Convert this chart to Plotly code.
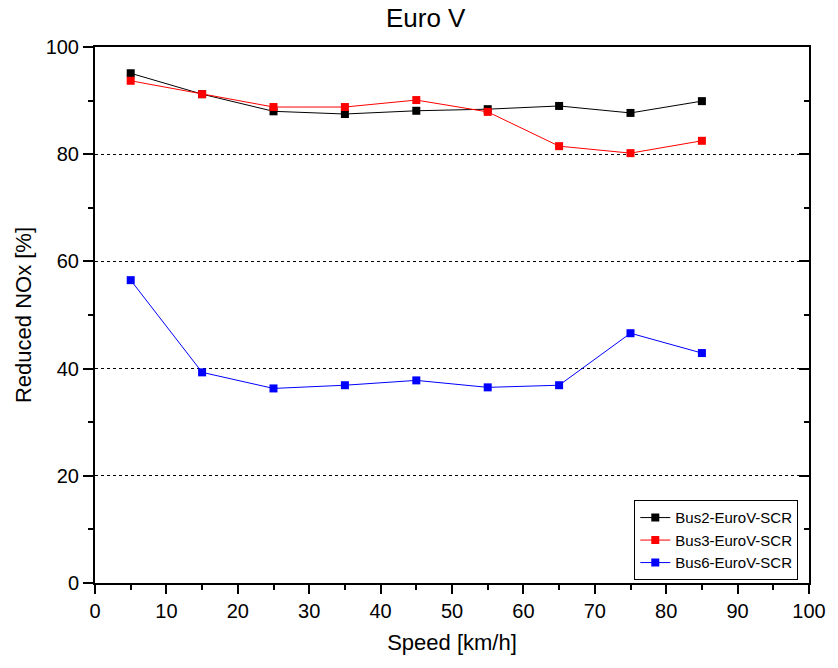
import plotly.graph_objects as go

speed = [5, 15, 25, 35, 45, 55, 65, 75, 85]
bus2 = [95.1, 91.2, 88.0, 87.5, 88.1, 88.4, 89.0, 87.7, 89.9]
bus3 = [93.7, 91.2, 88.8, 88.8, 90.1, 87.9, 81.5, 80.2, 82.5]
bus6 = [56.5, 39.3, 36.3, 36.9, 37.8, 36.5, 36.9, 46.6, 42.9]
names = ["Bus2-EuroV-SCR", "Bus3-EuroV-SCR", "Bus6-EuroV-SCR"]
colors = ["#000000", "#ff0000", "#0000ff"]

fig = go.Figure()
for name, ys, c in zip(names, [bus2, bus3, bus6], colors):
    fig.add_trace(go.Scatter(
        x=speed, y=ys, name=name, mode="lines+markers",
        line=dict(color=c, width=1),
        marker=dict(symbol="square", size=8, color=c),
    ))
# invisible trace to host the right-hand axis with inward ticks
fig.add_trace(go.Scatter(x=[None], y=[None], yaxis="y2", showlegend=False, hoverinfo="skip"))

fam = "Arial, Liberation Sans, sans-serif"
fig.update_layout(
    width=838, height=668,
    margin=dict(l=95, r=21, t=47, b=85),
    paper_bgcolor="white", plot_bgcolor="white",
    font=dict(family=fam, color="black", size=20),
    title=dict(text="Euro V", x=0.508, xanchor="center", y=0.973, yanchor="middle",
               font=dict(family=fam, size=26, color="black")),
    showlegend=True,
    legend=dict(x=0.985, y=0.005, xanchor="right", yanchor="bottom",
                bordercolor="black", borderwidth=1, bgcolor="white",
                font=dict(family=fam, size=15, color="black"), tracegroupgap=0, itemwidth=30),
    xaxis=dict(
        range=[0, 100], tickvals=list(range(0, 101, 10)),
        tickfont=dict(family=fam, size=20, color="black"),
        title=dict(text="Speed [km/h]", standoff=14, font=dict(family=fam, size=22, color="black")),
        showline=True, linecolor="black", linewidth=2, mirror=True,
        ticks="outside", ticklen=9, tickwidth=2, tickcolor="black",
        minor=dict(ticks="outside", ticklen=5, tickwidth=2, dtick=5, tickcolor="black"),
        showgrid=False, zeroline=False,
    ),
    yaxis=dict(
        range=[0, 100], tickvals=list(range(0, 101, 20)),
        tickfont=dict(family=fam, size=20, color="black"),
        title=dict(text="Reduced NOx [%]", standoff=8, font=dict(family=fam, size=22, color="black")),
        showline=True, linecolor="black", linewidth=2, mirror=True,
        ticks="outside", ticklen=10, tickwidth=2, tickcolor="black",
        minor=dict(ticks="outside", ticklen=5, tickwidth=2, dtick=10, tickcolor="black", showgrid=False),
        showgrid=True, gridcolor="black", griddash="3px,3px", gridwidth=1,
        zeroline=False,
    ),
    yaxis2=dict(
        range=[0, 100], overlaying="y", side="right", anchor="x",
        tickvals=list(range(0, 101, 20)), showticklabels=False,
        ticks="inside", ticklen=10, tickwidth=2, tickcolor="black",
        minor=dict(ticks="inside", ticklen=5, tickwidth=2, dtick=10, tickcolor="black", showgrid=False),
        showgrid=False, zeroline=False, showline=False,
    ),
)
fig.write_html("out.html")
